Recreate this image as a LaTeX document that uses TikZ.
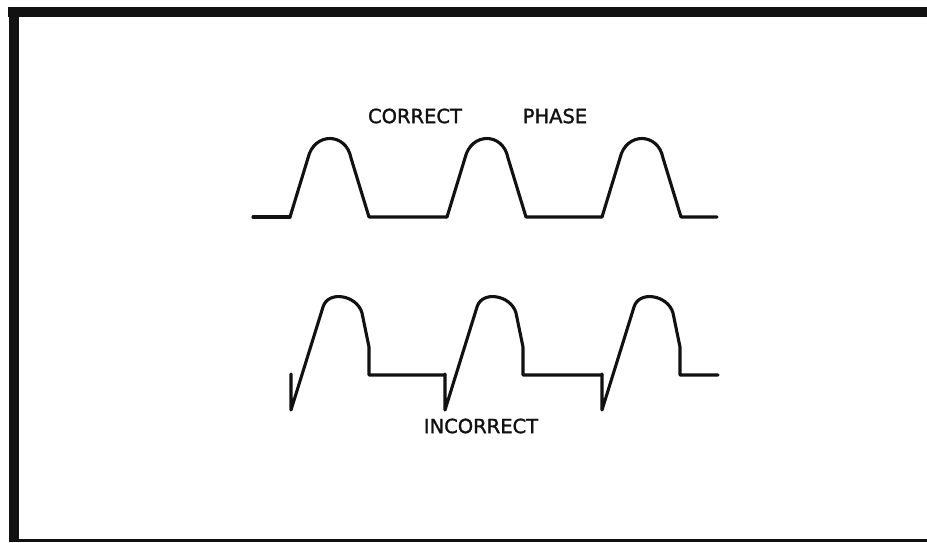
\documentclass[tikz,border=0pt]{standalone}
\usepackage{xcolor}
\usepackage{fontspec}
\usepackage{tikz}
\usetikzlibrary{positioning}
\setmainfont{DejaVu Sans}
\newfontfamily\letterfont[FakeBold=1.5]{DejaVu Sans}
\definecolor{inkBlack}{HTML}{111111}

\begin{document}
\begin{tikzpicture}[
  x=1pt, y=-1pt,
  wave/.style={draw=inkBlack, line width=3.1pt, line join=round, line cap=round},
  frame/.style={draw=inkBlack, line cap=butt},
  tag/.style={inner sep=0pt, font=\letterfont\fontsize{19.5}{22}\selectfont, text=inkBlack}
]
\useasboundingbox (0,0) rectangle (927,542);
% frame
\draw[frame, line width=10pt] (8,12) -- (927,12);
\draw[frame, line width=10pt] (13.5,7) -- (13.5,542);
\draw[frame, line width=3pt] (9,540) -- (927,540);
% labels
\node[tag] (correct) at (415,116) {CORRECT};
\node[tag] (phase) at (555,116) {PHASE};
\node[tag] (incorrect) at (481,426) {INCORRECT};
% correct phase
\draw[wave] (253,217) -- (290,217);
\foreach \x/\e in {290/447, 447/602, 602/717}
  \draw[wave] (\x,217) -- ({\x+18},158)
    .. controls ({\x+24},132) and ({\x+56},132) .. ({\x+61},158)
    -- ({\x+79},217) -- (\e,217);
% incorrect phase
\foreach \x/\e in {291/445, 445/602, 602/718}
  \draw[wave] (\x,374) -- (\x,410) -- ({\x+32},307)
    .. controls ({\x+37},290) and ({\x+66},295) .. ({\x+71},313)
    -- ({\x+78},347) -- ({\x+78},375) -- (\e,375);
\end{tikzpicture}
\end{document}
